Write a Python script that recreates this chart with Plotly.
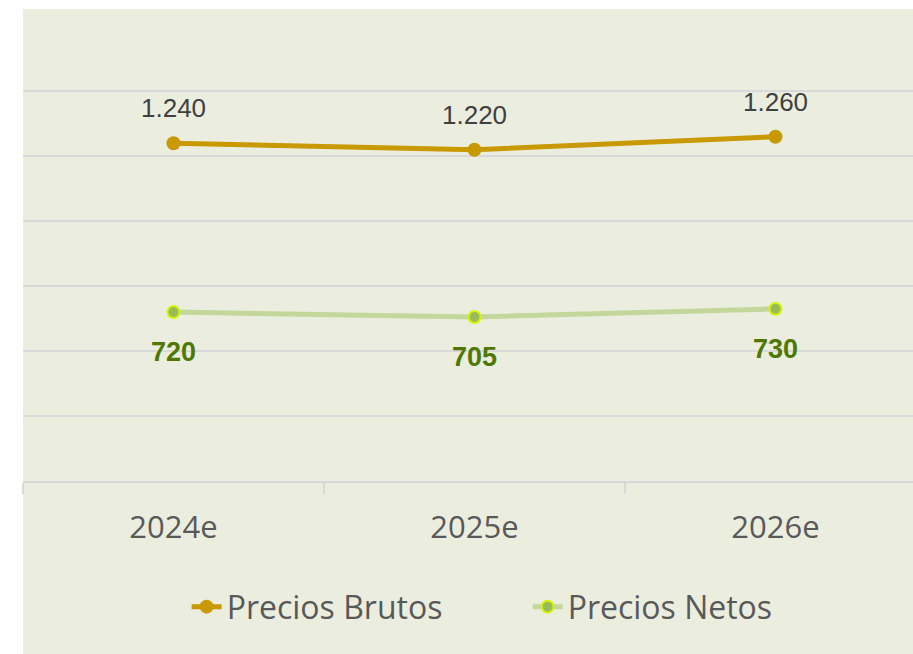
import plotly.graph_objects as go

# datos
years = ["2024e", "2025e", "2026e"]
precios_brutos = [1240, 1220, 1260]
precios_netos = [720, 705, 730]
labels_brutos = ["1.240", "1.220", "1.260"]
labels_netos = ["720", "705", "730"]

BG = "#EBEEDF"
GRID = "#D9D9D9"
GOLD = "#C89900"
GREEN_LINE = "#C3D69B"
GREEN_MARK = "#9BBB59"
GREEN_EDGE = "#D6F500"
LABEL_GREEN = "#4F7800"

fig = go.Figure()

fig.add_trace(go.Scatter(
    x=years, y=precios_brutos, name="Precios Brutos",
    mode="lines+markers",
    line=dict(color=GOLD, width=5),
    marker=dict(color=GOLD, size=14, line=dict(color=GOLD, width=0)),
    hoverinfo="skip",
))
fig.add_trace(go.Scatter(
    x=years, y=precios_netos, name="Precios Netos",
    mode="lines+markers",
    line=dict(color=GREEN_LINE, width=5),
    marker=dict(color=GREEN_MARK, size=12, line=dict(color=GREEN_EDGE, width=2)),
    hoverinfo="skip",
))

# etiquetas de datos
for x, y, t in zip(years, precios_brutos, labels_brutos):
    fig.add_annotation(x=x, y=y, text=t, showarrow=False, yshift=35,
                       font=dict(family="Liberation Sans, Arial", size=26, color="#404040"))
for x, y, t in zip(years, precios_netos, labels_netos):
    fig.add_annotation(x=x, y=y, text="<b>" + t + "</b>", showarrow=False, yshift=-40,
                       font=dict(family="Liberation Sans, Arial", size=27, color=LABEL_GREEN))

# franjas blancas fuera del area del grafico
fig.add_shape(type="rect", xref="paper", yref="paper", x0=-0.1, x1=0, y0=-2, y1=2,
              fillcolor="white", line_width=0, layer="below")
fig.add_shape(type="rect", xref="paper", yref="paper", x0=-0.1, x1=1.1, y0=1.1626, y1=1.5,
              fillcolor="white", line_width=0, layer="below")

fig.update_layout(
    width=913, height=654,
    margin=dict(l=23, r=0, t=75, b=173),
    paper_bgcolor=BG,
    plot_bgcolor="rgba(0,0,0,0)",
    showlegend=True,
    legend=dict(orientation="h", x=0.567, xanchor="center", y=-0.31, yanchor="middle",
                font=dict(family="Open Sans", size=32, color="#595959"),
                entrywidth=296, itemwidth=30,
                bgcolor="rgba(0,0,0,0)"),
    hovermode=False,
)
fig.update_xaxes(
    type="category", range=[-0.5, 2.457],
    showgrid=False, tickson="boundaries",
    ticks="outside", ticklen=11, tickwidth=2, tickcolor=GRID,
    showline=True, linecolor=GRID, linewidth=2,
    ticklabelstandoff=18,
    tickfont=dict(family="Open Sans", size=31, color="#595959"),
)
fig.update_yaxes(
    range=[200, 1450], dtick=200, tick0=0,
    showticklabels=False, showgrid=True, gridcolor=GRID, gridwidth=2,
    zeroline=False, showline=False,
)

fig.write_html("out.html", config={"displayModeBar": False},
               post_script="document.body.style.margin='0px';")
